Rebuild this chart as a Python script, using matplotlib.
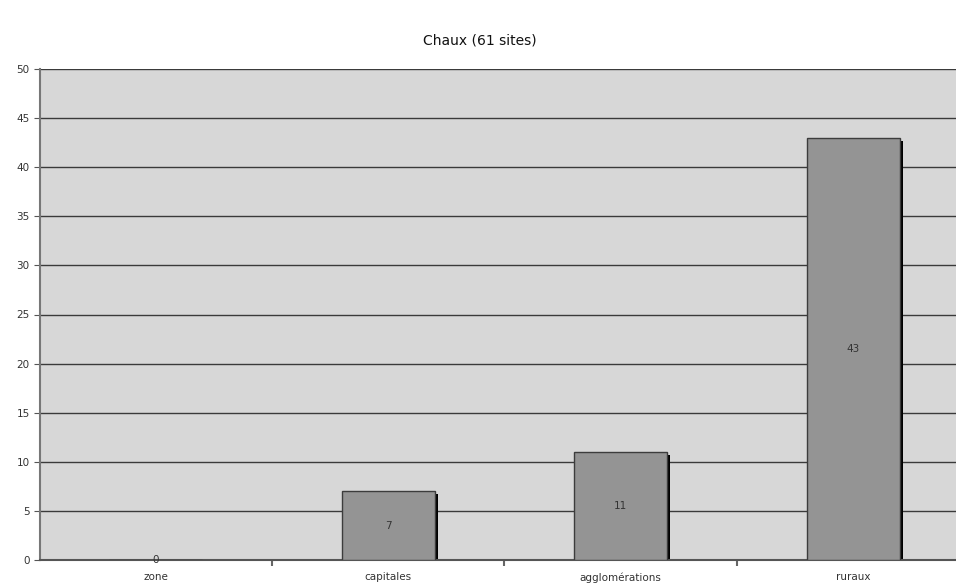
import matplotlib.pyplot as plt
import numpy as np

# data
categories = ['zone', 'capitales', 'agglomérations', 'ruraux']
values = [0, 7, 11, 43]
title_text = 'Chaux (61 sites)'

fig = plt.figure(figsize=(9.56, 5.86), dpi=100)
W, H = 956, 586
# plot area runs past the right edge of the picture, like the original
left, right, top, bottom = 39.5, 969.5, 69, 560
ax = fig.add_axes([left / W, 1 - bottom / H, (right - left) / W, (bottom - top) / H])
ax.set_facecolor('#d7d7d7')

x = np.arange(len(categories))
bar_w = 0.4
px_x = 1 / 232.5          # one pixel in x data units
px_y = 50 / (bottom - top)  # one pixel in y data units

# shadow behind each bar
for xi, v in zip(x, values):
    if v > 0:
        ax.bar(xi + 3 * px_x, v - 3 * px_y, width=bar_w, color='black',
               zorder=2, linewidth=0)
ax.bar(x, values, width=bar_w, color='#949494', edgecolor='#3c3c3c',
       linewidth=1.0, zorder=3)

for xi, v in zip(x, values):
    ax.text(xi, v / 2, str(v), ha='center', va='center', fontsize=7.5,
            color='#333333', zorder=4)

ax.set_xlim(-0.5, len(categories) - 0.5)
ax.set_ylim(0, 50)
ax.set_yticks(range(0, 51, 5))
ax.yaxis.grid(True, color='#3a3a3a', linewidth=1.0)
ax.set_axisbelow(True)

ax.set_xticks(x)
ax.set_xticklabels(categories, fontsize=7.5, color='#333333')
ax.set_xticks(np.arange(0.5, len(categories) - 0.5, 1), minor=True)
ax.tick_params(axis='x', which='major', length=0, pad=9)
ax.tick_params(axis='x', which='minor', length=4, width=1.5, color='#666666')
ax.tick_params(axis='y', labelsize=7.5, labelcolor='#333333', length=4,
               color='#555555', pad=3)

for s in ['top', 'right']:
    ax.spines[s].set_visible(False)
ax.spines['left'].set_color('#777777')
ax.spines['left'].set_linewidth(1.5)
ax.spines['bottom'].set_color('#555555')
ax.spines['bottom'].set_linewidth(1.5)

fig.text(480 / W, 1 - 40 / H, title_text, ha='center', va='center',
         fontsize=10, color='#111111')

plt.savefig('out.png', dpi=100)
